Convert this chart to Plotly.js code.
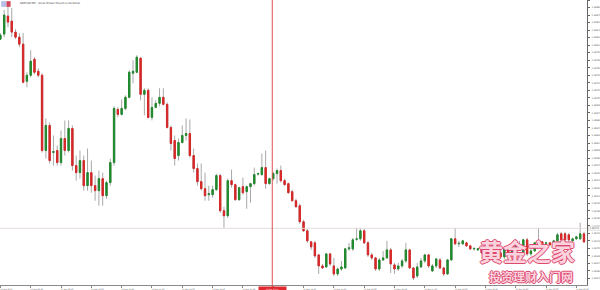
<!DOCTYPE html>
<html><head><meta charset="utf-8">
<script src="https://cdn.plot.ly/plotly-3.0.1.min.js"></script>
<style>html,body{margin:0;padding:0;background:#fff;}#chart{width:600px;height:290px;}</style>
</head><body><div id="chart"></div>
<script>
// GBPUSD M5 candles
const open = [
1.29822,1.29832,1.29868,1.29858,1.29836,1.29826,1.29812,1.29738,1.29750,1.29782,
1.29758,1.29750,1.29600,1.29650,1.29596,1.29600,1.29576,1.29624,1.29600,1.29644,
1.29570,1.29556,1.29580,1.29530,1.29556,1.29530,1.29520,1.29544,1.29510,1.29536,
1.29576,1.29682,1.29672,1.29684,1.29706,1.29754,1.29756,1.29784,1.29712,1.29720,
1.29666,1.29686,1.29694,1.29706,1.29692,1.29646,1.29620,1.29590,1.29616,1.29630,
1.29634,1.29590,1.29564,1.29538,1.29524,1.29512,1.29512,1.29522,1.29550,1.29480,
1.29470,1.29540,1.29532,1.29502,1.29528,1.29518,1.29528,1.29534,1.29553,1.29552,
1.29566,1.29534,1.29544,1.29554,1.29560,1.29540,1.29534,1.29518,1.29500,1.29490,
1.29458,1.29440,1.29418,1.29416,1.29392,1.29370,1.29368,1.29394,1.29370,1.29354,
1.29364,1.29366,1.29404,1.29404,1.29423,1.29424,1.29440,1.29416,1.29392,1.29386,
1.29364,1.29382,1.29386,1.29402,1.29372,1.29364,1.29370,1.29380,1.29402,1.29366,
1.29350,1.29368,1.29380,1.29392,1.29360,1.29370,1.29382,1.29366,1.29354,1.29382,
1.29424,1.29414,1.29414,1.29416,1.29410,1.29404,1.29402,1.29404,1.29400,1.29394,
1.29400,1.29416,1.29396,1.29388,1.29404,1.29394,1.29408,1.29412,1.29396,1.29422,
1.29394,1.29400,1.29415,1.29418,1.29415,1.29416,1.29412,1.29420,1.29434,1.29434,
1.29432,1.29420,1.29424,1.29424,1.29434];
const high = [
1.29834,1.29880,1.29894,1.29884,1.29842,1.29834,1.29834,1.29756,1.29800,1.29786,
1.29764,1.29754,1.29664,1.29656,1.29630,1.29610,1.29640,1.29660,1.29660,1.29650,
1.29590,1.29600,1.29590,1.29604,1.29580,1.29550,1.29560,1.29556,1.29540,1.29584,
1.29688,1.29686,1.29702,1.29710,1.29760,1.29780,1.29790,1.29786,1.29724,1.29724,
1.29706,1.29700,1.29724,1.29724,1.29696,1.29650,1.29630,1.29624,1.29650,1.29664,
1.29662,1.29604,1.29574,1.29574,1.29556,1.29530,1.29530,1.29554,1.29554,1.29488,
1.29544,1.29562,1.29534,1.29528,1.29546,1.29530,1.29536,1.29566,1.29556,1.29594,
1.29600,1.29546,1.29558,1.29564,1.29570,1.29544,1.29536,1.29522,1.29504,1.29494,
1.29462,1.29444,1.29420,1.29420,1.29394,1.29374,1.29396,1.29396,1.29386,1.29366,
1.29380,1.29406,1.29416,1.29426,1.29446,1.29446,1.29444,1.29420,1.29396,1.29388,
1.29386,1.29400,1.29420,1.29406,1.29376,1.29376,1.29384,1.29416,1.29404,1.29368,
1.29376,1.29386,1.29394,1.29394,1.29374,1.29386,1.29386,1.29368,1.29384,1.29426,
1.29446,1.29420,1.29422,1.29418,1.29412,1.29406,1.29406,1.29406,1.29402,1.29410,
1.29420,1.29420,1.29400,1.29408,1.29410,1.29414,1.29424,1.29420,1.29424,1.29426,
1.29404,1.29418,1.29446,1.29420,1.29418,1.29418,1.29422,1.29436,1.29438,1.29438,
1.29436,1.29426,1.29430,1.29456,1.29438];
const low = [
1.29820,1.29826,1.29846,1.29826,1.29822,1.29806,1.29734,1.29726,1.29746,1.29752,
1.29746,1.29596,1.29584,1.29574,1.29570,1.29570,1.29570,1.29590,1.29596,1.29560,
1.29540,1.29544,1.29520,1.29520,1.29516,1.29500,1.29490,1.29490,1.29504,1.29530,
1.29570,1.29666,1.29670,1.29680,1.29704,1.29734,1.29754,1.29700,1.29670,1.29664,
1.29660,1.29684,1.29688,1.29690,1.29644,1.29600,1.29570,1.29580,1.29614,1.29620,
1.29586,1.29556,1.29530,1.29520,1.29500,1.29500,1.29506,1.29520,1.29476,1.29446,
1.29466,1.29526,1.29500,1.29500,1.29512,1.29484,1.29496,1.29530,1.29550,1.29550,
1.29524,1.29532,1.29540,1.29534,1.29536,1.29530,1.29514,1.29498,1.29486,1.29454,
1.29438,1.29416,1.29402,1.29386,1.29354,1.29364,1.29366,1.29370,1.29350,1.29350,
1.29360,1.29364,1.29400,1.29400,1.29420,1.29420,1.29414,1.29388,1.29382,1.29360,
1.29360,1.29380,1.29384,1.29356,1.29354,1.29360,1.29366,1.29376,1.29364,1.29342,
1.29346,1.29366,1.29376,1.29366,1.29358,1.29366,1.29364,1.29350,1.29352,1.29380,
1.29412,1.29408,1.29412,1.29408,1.29402,1.29400,1.29400,1.29394,1.29390,1.29390,
1.29398,1.29392,1.29384,1.29384,1.29390,1.29392,1.29386,1.29400,1.29392,1.29390,
1.29390,1.29398,1.29414,1.29412,1.29414,1.29410,1.29410,1.29418,1.29420,1.29420,
1.29418,1.29418,1.29422,1.29422,1.29416];
const close = [
1.29830,1.29870,1.29856,1.29836,1.29826,1.29812,1.29736,1.29750,1.29778,1.29756,
1.29750,1.29600,1.29650,1.29580,1.29598,1.29576,1.29624,1.29600,1.29644,1.29570,
1.29556,1.29580,1.29530,1.29556,1.29530,1.29520,1.29544,1.29510,1.29536,1.29576,
1.29684,1.29672,1.29684,1.29706,1.29756,1.29758,1.29786,1.29712,1.29720,1.29666,
1.29686,1.29694,1.29706,1.29692,1.29646,1.29614,1.29584,1.29616,1.29630,1.29634,
1.29590,1.29564,1.29538,1.29524,1.29510,1.29514,1.29522,1.29550,1.29480,1.29470,
1.29540,1.29532,1.29502,1.29526,1.29516,1.29528,1.29534,1.29552,1.29554,1.29566,
1.29534,1.29544,1.29554,1.29560,1.29540,1.29532,1.29516,1.29500,1.29488,1.29458,
1.29440,1.29420,1.29408,1.29390,1.29370,1.29366,1.29394,1.29374,1.29354,1.29364,
1.29368,1.29404,1.29406,1.29422,1.29424,1.29440,1.29416,1.29392,1.29386,1.29364,
1.29382,1.29386,1.29402,1.29374,1.29364,1.29370,1.29380,1.29402,1.29366,1.29346,
1.29368,1.29380,1.29392,1.29370,1.29370,1.29384,1.29366,1.29354,1.29382,1.29424,
1.29414,1.29415,1.29420,1.29410,1.29404,1.29405,1.29404,1.29396,1.29394,1.29404,
1.29416,1.29396,1.29388,1.29404,1.29394,1.29410,1.29412,1.29408,1.29422,1.29394,
1.29400,1.29416,1.29416,1.29414,1.29416,1.29412,1.29420,1.29432,1.29422,1.29422,
1.29422,1.29424,1.29428,1.29434,1.29418];

const timeTickIndex = [0,8,16,24,32,40,48,56,64,72,80,88,96,104,112,120,128,136,144,152];
const timeTickLabels = ['13 Nov 2019','13 Nov 08:40','13 Nov 09:20','13 Nov 10:00','13 Nov 10:40',
 '13 Nov 11:20','13 Nov 12:00','13 Nov 12:40','13 Nov 13:20','13 Nov 14:00','13 Nov 14:40',
 '13 Nov 15:20','13 Nov 16:00','13 Nov 16:40','13 Nov 17:20','13 Nov 18:00','13 Nov 18:40',
 '13 Nov 19:20','13 Nov 20:00','13 Nov 20:40'];
const crossBar = 71.75;
const crossTime = '13 Nov 13:55';
const crossPrice = 1.29445;
const chartTitle = 'GBPUSD,M5:  Great Britain Pound vs US Dollar';

const idx = open.map((_, i) => i);
const bodyHigh = open.map((o, i) => Math.max(o, close[i]));
const bodyLow = open.map((o, i) => Math.min(o, close[i]));

const wickColor = '#a9a9a9';
const up = '#1f8a2c', down = '#d82626';

const wicks = {type:'candlestick', x: idx, open: open, high: high, low: low, close: close,
  increasing:{line:{color:wickColor, width:1}, fillcolor:wickColor},
  decreasing:{line:{color:wickColor, width:1}, fillcolor:wickColor},
  hoverinfo:'skip', showlegend:false};
const bodies = {type:'candlestick', x: idx, open: open, high: bodyHigh, low: bodyLow, close: close,
  increasing:{line:{color:up, width:1}, fillcolor:up},
  decreasing:{line:{color:down, width:1}, fillcolor:down},
  hoverinfo:'skip', showlegend:false};

const wmShadow = '1px 0 0 #dc4a70, -1px 0 0 #dc4a70, 0 1px 0 #dc4a70, 0 -1px 0 #dc4a70';

const layout = {
  width:600, height:290,
  margin:{l:0, r:13, t:0, b:5},
  paper_bgcolor:'#ffffff', plot_bgcolor:'#ffffff',
  showlegend:false, boxgap:0.5, boxmode:'overlay',
  xaxis:{range:[-0.1,154.8], rangeslider:{visible:false}, showgrid:false, zeroline:false,
    showline:true, linecolor:'#8a8a8a', linewidth:1, ticks:'outside', ticklen:2, tickcolor:'#8a8a8a',
    tickmode:'array', tickvals:timeTickIndex, ticktext:timeTickLabels,
    tickfont:{family:'DejaVu Sans', size:1.9, color:'#555'}, ticklabelshift:6, ticklabelstandoff:0,
    fixedrange:true},
  yaxis:{side:'right', range:[1.29332,1.29900], showgrid:false, zeroline:false,
    showline:true, linecolor:'#666', linewidth:1, ticks:'outside', ticklen:2, tickcolor:'#666',
    tick0:1.29330, dtick:0.00015, tickformat:'.5f',
    tickfont:{family:'DejaVu Sans', size:2.3, color:'#555'}, ticklabelstandoff:1, fixedrange:true},
  shapes:[
    {type:'line', xref:'paper', yref:'y', x0:0, x1:1, y0:crossPrice, y1:crossPrice,
      line:{color:'#e4dcdc', width:1}},
    {type:'line', xref:'x', yref:'paper', x0:crossBar, x1:crossBar, y0:-0.02, y1:1,
      line:{color:'#e05050', width:1}},
    {type:'rect', xref:'paper', yref:'paper', x0:0.002, x1:0.011, y0:0.976, y1:0.996,
      fillcolor:'#b8bfe6', line:{width:0}},
    {type:'rect', xref:'paper', yref:'paper', x0:0.011, x1:0.018, y0:0.976, y1:0.996,
      fillcolor:'#d2475a', line:{width:0}}
  ],
  annotations:[
    {xref:'paper', yref:'paper', x:0.030, y:0.987, xanchor:'left', yanchor:'middle', showarrow:false,
      text:chartTitle, font:{family:'DejaVu Sans', size:2.6, color:'#444'}},
    {xref:'x', yref:'paper', x:crossBar, y:0, yanchor:'top', xanchor:'center', yshift:-1, showarrow:false,
      text:crossTime, width:27, height:4, bgcolor:'#e0282e', borderpad:0,
      font:{family:'DejaVu Sans', size:1.9, color:'#fff'}},
    {xref:'paper', yref:'y', x:1, y:crossPrice, xanchor:'left', yanchor:'middle', xshift:1, showarrow:false,
      text:crossPrice.toFixed(5), width:12, height:4, bgcolor:'#fafafa', bordercolor:'#cfcfcf',
      borderwidth:0.5, borderpad:0, font:{family:'DejaVu Sans', size:2.3, color:'#444'}},
    {xref:'paper', yref:'paper', x:0.897, y:0.122, xanchor:'center', yanchor:'middle', showarrow:false,
      text:'黄金之家', font:{family:'Noto Sans CJK SC', size:24, weight:700, color:'#fbd3de', shadow:wmShadow}},
    {xref:'paper', yref:'paper', x:0.905, y:0.030, xanchor:'center', yanchor:'middle', showarrow:false,
      text:'投资理财入门网', font:{family:'Noto Sans CJK SC', size:12, weight:700, color:'#fbd3de', shadow:wmShadow}}
  ]
};

Plotly.newPlot('chart', [wicks, bodies], layout, {displayModeBar:false, staticPlot:true});
</script>
</body></html>
